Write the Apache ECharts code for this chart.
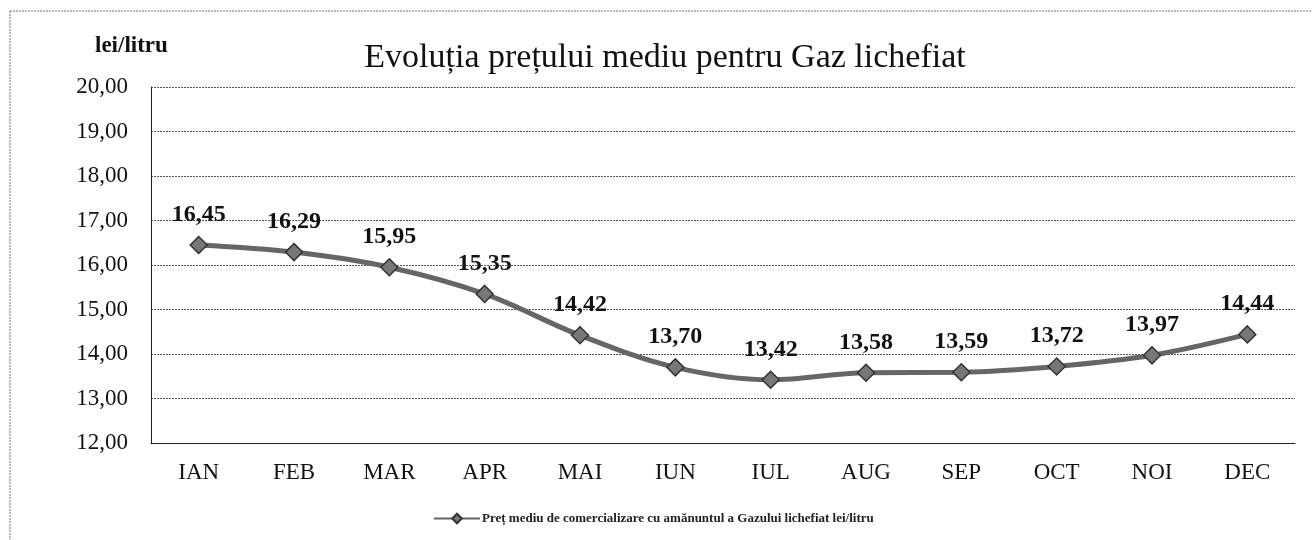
<!DOCTYPE html>
<html>
<head>
<meta charset="utf-8">
<script src="https://cdn.jsdelivr.net/npm/echarts@6/dist/echarts.min.js"></script>
<style>
  html, body { margin: 0; padding: 0; background: #fff; }
  #chart { width: 1312px; height: 540px; }
</style>
</head>
<body>
<div id="chart"></div>
<script>
const months = ['IAN', 'FEB', 'MAR', 'APR', 'MAI', 'IUN', 'IUL', 'AUG', 'SEP', 'OCT', 'NOI', 'DEC']
const pretMediu = [16.45, 16.29, 15.95, 15.35, 14.42, 13.70, 13.42, 13.58, 13.59, 13.72, 13.97, 14.44]
const seriesName = 'Preț mediu de comercializare cu amănuntul a Gazului lichefiat lei/litru'

const serif = '"Liberation Serif", "DejaVu Serif", serif'
// romanian style numbers: comma as decimal separator
const fmt = v => v.toFixed(2).replace('.', ',')

const chart = echarts.init(document.getElementById('chart'))
chart.setOption({
  animation: false,
  backgroundColor: '#fff',
  title: {
    text: 'Evoluția prețului mediu pentru Gaz lichefiat',
    left: 660,
    textAlign: 'center',
    top: 36,
    textStyle: { fontFamily: serif, fontSize: 34, fontWeight: 'normal', color: '#111' }
  },
  graphic: [
    { type: 'line', shape: { x1: 10, y1: 11, x2: 1312, y2: 11 }, style: { stroke: '#777', lineWidth: 1, lineDash: [2, 1] } },
    { type: 'line', shape: { x1: 10, y1: 11, x2: 10, y2: 540 }, style: { stroke: '#777', lineWidth: 1, lineDash: [2, 1] } },
    {
      type: 'text', left: 95, top: 35,
      style: { text: 'lei/litru', font: 'bold 23px ' + serif, fill: '#111' }
    }
  ],
  legend: {
    bottom: 10,
    left: 428,
    itemWidth: 46,
    itemHeight: 12,
    itemGap: 2,
    textStyle: { fontFamily: serif, fontSize: 13, fontWeight: 'bold', color: '#222', padding: [0, 0, 0, -3] },
    data: [seriesName]
  },
  grid: { left: 151, right: 17, top: 87, bottom: 97, containLabel: false },
  xAxis: {
    type: 'category',
    data: months,
    boundaryGap: true,
    axisLine: { lineStyle: { color: '#222', width: 1 } },
    axisTick: { show: false },
    axisLabel: { fontFamily: serif, fontSize: 23, color: '#111', margin: 18 }
  },
  yAxis: {
    type: 'value',
    min: 12,
    max: 20,
    interval: 1,
    axisLine: { show: true, lineStyle: { color: '#222', width: 1 } },
    axisTick: { show: false },
    axisLabel: { fontFamily: serif, fontSize: 23, color: '#111', margin: 23, formatter: v => fmt(v) },
    splitLine: { lineStyle: { color: '#555', width: 1, type: [2, 1] } }
  },
  series: [{
    name: seriesName,
    type: 'line',
    data: pretMediu,
    smooth: 0.35,
    symbol: 'diamond',
    symbolSize: 17,
    lineStyle: { color: '#666', width: 5 },
    itemStyle: { color: '#777', borderColor: '#333', borderWidth: 1.5 },
    label: {
      show: true,
      position: 'top',
      distance: 9,
      fontFamily: serif,
      fontSize: 24,
      fontWeight: 'bold',
      color: '#111',
      formatter: p => fmt(p.value)
    }
  }]
})
</script>
</body>
</html>
